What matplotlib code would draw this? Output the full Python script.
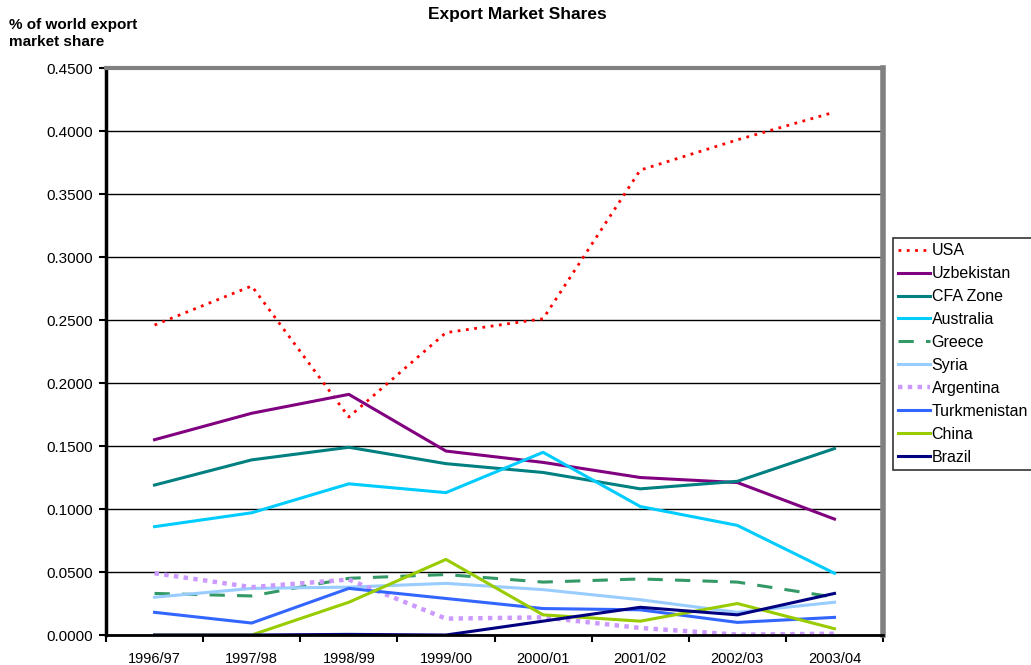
import numpy as np
import matplotlib.pyplot as plt

plt.rcParams['font.family'] = ['Liberation Sans', 'DejaVu Sans']

years = ['1996/97', '1997/98', '1998/99', '1999/00', '2000/01', '2001/02', '2002/03', '2003/04']

usa = [0.246, 0.277, 0.173, 0.240, 0.251, 0.369, 0.393, 0.415]
uzbekistan = [0.155, 0.176, 0.191, 0.146, 0.137, 0.125, 0.121, 0.092]
cfa_zone = [0.119, 0.139, 0.149, 0.136, 0.129, 0.116, 0.122, 0.148]
australia = [0.086, 0.097, 0.120, 0.113, 0.145, 0.102, 0.087, 0.049]
greece = [0.033, 0.031, 0.045, 0.048, 0.042, 0.0445, 0.042, 0.030]
syria = [0.030, 0.037, 0.038, 0.041, 0.036, 0.028, 0.018, 0.026]
argentina = [0.049, 0.038, 0.044, 0.013, 0.014, 0.0056, 0.0003, 0.001]
turkmenistan = [0.018, 0.0095, 0.037, 0.029, 0.021, 0.020, 0.010, 0.014]
china = [0.0, 0.0, 0.026, 0.060, 0.016, 0.011, 0.025, 0.005]
brazil = [0.0, 0.0, 0.0005, 0.0, 0.011, 0.022, 0.016, 0.033]

# (nombre, valores, color, estilo, grosor)
series = [
    ('USA', usa, '#FF0000', (0, (1, 2)), 2.0),
    ('Uzbekistan', uzbekistan, '#800080', '-', 2.2),
    ('CFA Zone', cfa_zone, '#008080', '-', 2.2),
    ('Australia', australia, '#00CCFF', '-', 2.2),
    ('Greece', greece, '#339966', (0, (5, 4)), 2.2),
    ('Syria', syria, '#99CCFF', '-', 2.2),
    ('Argentina', argentina, '#CC99FF', (0, (1, 1.2)), 3.2),
    ('Turkmenistan', turkmenistan, '#3366FF', '-', 2.2),
    ('China', china, '#99CC00', '-', 2.2),
    ('Brazil', brazil, '#000080', '-', 2.2),
]

fig = plt.figure(figsize=(10.31, 6.65), dpi=100)
ax = fig.add_axes([0.1028, 0.0451, 0.7537, 0.8526])

x = np.arange(len(years))
for name, vals, color, ls, lw in series:
    ax.plot(x, vals, color=color, linestyle=ls, linewidth=lw, label=name)

ax.set_xlim(-0.5, len(years) - 0.5)
ax.set_ylim(0, 0.45)
ax.set_yticks(np.arange(0, 0.4501, 0.05))
ax.set_yticklabels([f'{v:.4f}' for v in np.arange(0, 0.4501, 0.05)], fontsize=11)
ax.yaxis.grid(True, color='black', linewidth=1.0)
ax.set_axisbelow(True)

# ticks de categoria entre los anos
ax.set_xticks(x)
ax.set_xticklabels(years, fontsize=10.5)
ax.set_xticks(np.arange(-0.5, len(years), 1.0), minor=True)
ax.tick_params(axis='x', which='major', length=0, pad=12)
ax.tick_params(axis='x', which='minor', length=5, width=1.5, direction='out')
ax.tick_params(axis='y', length=5, width=1.5, direction='out', pad=4)

ax.spines['left'].set_color('black')
ax.spines['left'].set_linewidth(2.5)
ax.spines['bottom'].set_color('black')
ax.spines['bottom'].set_linewidth(2.0)
ax.spines['top'].set_color('#808080')
ax.spines['top'].set_linewidth(3.0)
ax.spines['right'].set_color('#808080')
ax.spines['right'].set_linewidth(4.0)

fig.text(0.502, 0.978, 'Export Market Shares', ha='center', va='center',
         fontsize=12.5, fontweight='bold')
fig.text(0.009, 0.950, '% of world export\nmarket share', ha='left', va='center',
         fontsize=11, fontweight='bold', linespacing=1.3)

leg = fig.legend(loc='upper left', bbox_to_anchor=(0.8665, 0.6416), fontsize=11.5,
                 frameon=True, fancybox=False, edgecolor='black', handlelength=2.0,
                 handletextpad=0.1, borderpad=0.3, labelspacing=0.5, borderaxespad=0)
leg.get_frame().set_linewidth(1.2)

fig.savefig('out.png', dpi=100)
